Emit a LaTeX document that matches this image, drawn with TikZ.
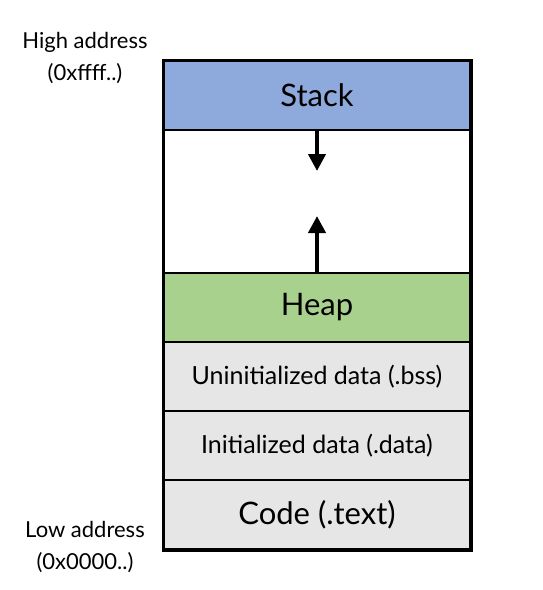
\documentclass[tikz,border=0pt]{standalone}
\usepackage{fontspec}
\setmainfont{Lato}
\usetikzlibrary{arrows.meta}
\definecolor{stackblue}{HTML}{8EA9DB}
\definecolor{heapgreen}{HTML}{A9D18E}
\definecolor{seggrey}{HTML}{E7E6E6}
\begin{document}
\begin{tikzpicture}[x=1pt,y=-1pt,
  seg/.style={draw=black, line width=2pt, minimum width=306pt, inner sep=0pt, anchor=north west, text=black},
  biglabel/.style={font=\fontsize{31}{34}\selectfont},
  midlabel/.style={font=\fontsize{25}{28}\selectfont},
  sidelabel/.style={font=\fontsize{22}{32}\selectfont, align=center},
  growarrow/.style={line width=4pt, -{Triangle[width=17pt,length=17pt]}}]
\useasboundingbox (0,0) rectangle (543,590);
\node[seg, fill=stackblue, minimum height=69pt, biglabel] (stack) at (163,60) {Stack};
\node[seg, fill=white, minimum height=143pt] (free) at (163,129) {};
\node[seg, fill=heapgreen, minimum height=69pt, biglabel] (heap) at (163,272) {Heap};
\node[seg, fill=seggrey, minimum height=69pt, midlabel] (bss) at (163,341) {Uninitialized data (.bss)};
\node[seg, fill=seggrey, minimum height=69pt, midlabel] (data) at (163,410) {Initialized data (.data)};
\node[seg, fill=seggrey, minimum height=69pt, biglabel] (code) at (163,479) {Code (.text)};
\draw[line width=3pt] (stack.north west) rectangle (code.south east);
\coordinate (downend) at (317,171);
\coordinate (upend) at (317,216);
\draw[growarrow] (stack.south -| downend) -- (downend);
\draw[growarrow] (heap.north -| upend) -- (upend);
\node[sidelabel] (high) at (85,58) {High address\\(0xffff..)};
\node[sidelabel] (low) at (85,547) {Low address\\(0x0000..)};
\end{tikzpicture}
\end{document}
